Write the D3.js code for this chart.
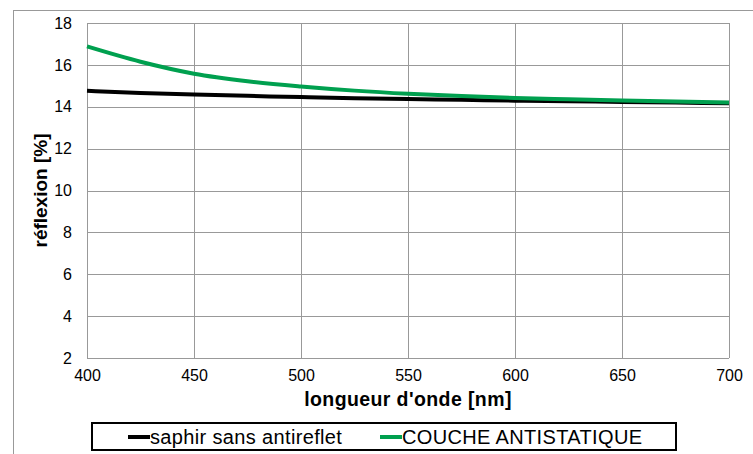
<!DOCTYPE html>
<html>
<head>
<meta charset="utf-8">
<script src="https://cdn.jsdelivr.net/npm/d3@7"></script>
<style>
  body { margin: 0; background: #fff; }
  text { font-family: "Liberation Sans", Arial, sans-serif; }
</style>
</head>
<body>
<div id="chart"></div>
<script>
const wavelengths = [400, 425, 450, 475, 500, 525, 550, 575, 600, 625, 650, 675, 700];
const saphir = [14.76, 14.66, 14.58, 14.52, 14.46, 14.41, 14.37, 14.33, 14.29, 14.26, 14.23, 14.2, 14.17];
const antistatique = [16.88, 16.15, 15.58, 15.22, 14.97, 14.77, 14.62, 14.51, 14.42, 14.36, 14.3, 14.25, 14.2];
const xTicks = [400, 450, 500, 550, 600, 650, 700];
const yTicks = [2, 4, 6, 8, 10, 12, 14, 16, 18];
const seriesNames = ["saphir sans antireflet", "COUCHE ANTISTATIQUE"];
const seriesColors = ["#000000", "#00a04f"];

const W = 753, H = 454;
const margin = { top: 23, right: 24, bottom: 96, left: 87 };
const width = W - margin.left - margin.right;
const height = H - margin.top - margin.bottom;

const root = d3.select("#chart").append("svg")
  .attr("width", W)
  .attr("height", H);

// outer chart frame
root.append("rect")
  .attr("x", 13.5).attr("y", 10.5)
  .attr("width", W).attr("height", H)
  .attr("fill", "none").attr("stroke", "#999").attr("stroke-width", 1);

const svg = root.append("g")
  .attr("transform", `translate(${margin.left},${margin.top})`);

const x = d3.scaleLinear().domain([400, 700]).range([0, width]);
const y = d3.scaleLinear().domain([2, 18]).range([height, 0]);

// grid
svg.append("g")
  .selectAll("line").data(xTicks).join("line")
  .attr("x1", d => Math.round(x(d)) + 0.5).attr("x2", d => Math.round(x(d)) + 0.5)
  .attr("y1", 0).attr("y2", height)
  .attr("stroke", "#999");
svg.append("g")
  .selectAll("line").data(yTicks).join("line")
  .attr("x1", 0).attr("x2", width)
  .attr("y1", d => Math.round(y(d)) + 0.5).attr("y2", d => Math.round(y(d)) + 0.5)
  .attr("stroke", "#999");

// axes (labels only)
const xAxis = svg.append("g")
  .attr("transform", `translate(0,${height})`)
  .call(d3.axisBottom(x).tickValues(xTicks).tickSize(0).tickPadding(12));
xAxis.select(".domain").remove();
xAxis.selectAll("text").attr("font-size", 16).attr("fill", "#000")
  .style("font-family", "Liberation Sans, Arial, sans-serif");

const yAxis = svg.append("g")
  .call(d3.axisLeft(y).tickValues(yTicks).tickSize(0).tickPadding(15));
yAxis.select(".domain").remove();
yAxis.selectAll("text").attr("font-size", 16).attr("fill", "#000")
  .style("font-family", "Liberation Sans, Arial, sans-serif");

// axis titles
root.append("text")
  .attr("x", margin.left + width / 2).attr("y", 406)
  .attr("text-anchor", "middle")
  .attr("font-size", 19.5).attr("font-weight", "bold")
  .attr("letter-spacing", 0.4)
  .text("longueur d'onde [nm]");

root.append("text")
  .attr("transform", `translate(47,${margin.top + height / 2}) rotate(-90)`)
  .attr("text-anchor", "middle")
  .attr("font-size", 19).attr("font-weight", "bold")
  .text("réflexion [%]");

// lines
const line = d3.line()
  .x(d => x(d[0]))
  .y(d => y(d[1]))
  .curve(d3.curveMonotoneX);

[saphir, antistatique].forEach((vals, i) => {
  svg.append("path")
    .datum(wavelengths.map((w, j) => [w, vals[j]]))
    .attr("fill", "none")
    .attr("stroke", seriesColors[i])
    .attr("stroke-width", 4)
    .attr("d", line);
});

// legend
const legend = root.append("g");
legend.append("rect")
  .attr("x", 92).attr("y", 423)
  .attr("width", 584).attr("height", 27)
  .attr("fill", "#fff").attr("stroke", "#000").attr("stroke-width", 2);

const legendX = [128, 380];
seriesNames.forEach((name, i) => {
  const g = legend.append("g").attr("transform", `translate(${legendX[i]},437)`);
  g.append("line")
    .attr("x1", 0).attr("x2", 22)
    .attr("stroke", seriesColors[i]).attr("stroke-width", 4);
  g.append("text")
    .attr("x", 22).attr("y", 7)
    .attr("font-size", 20)
    .attr("letter-spacing", 0.35)
    .text(name);
});
</script>
</body>
</html>
